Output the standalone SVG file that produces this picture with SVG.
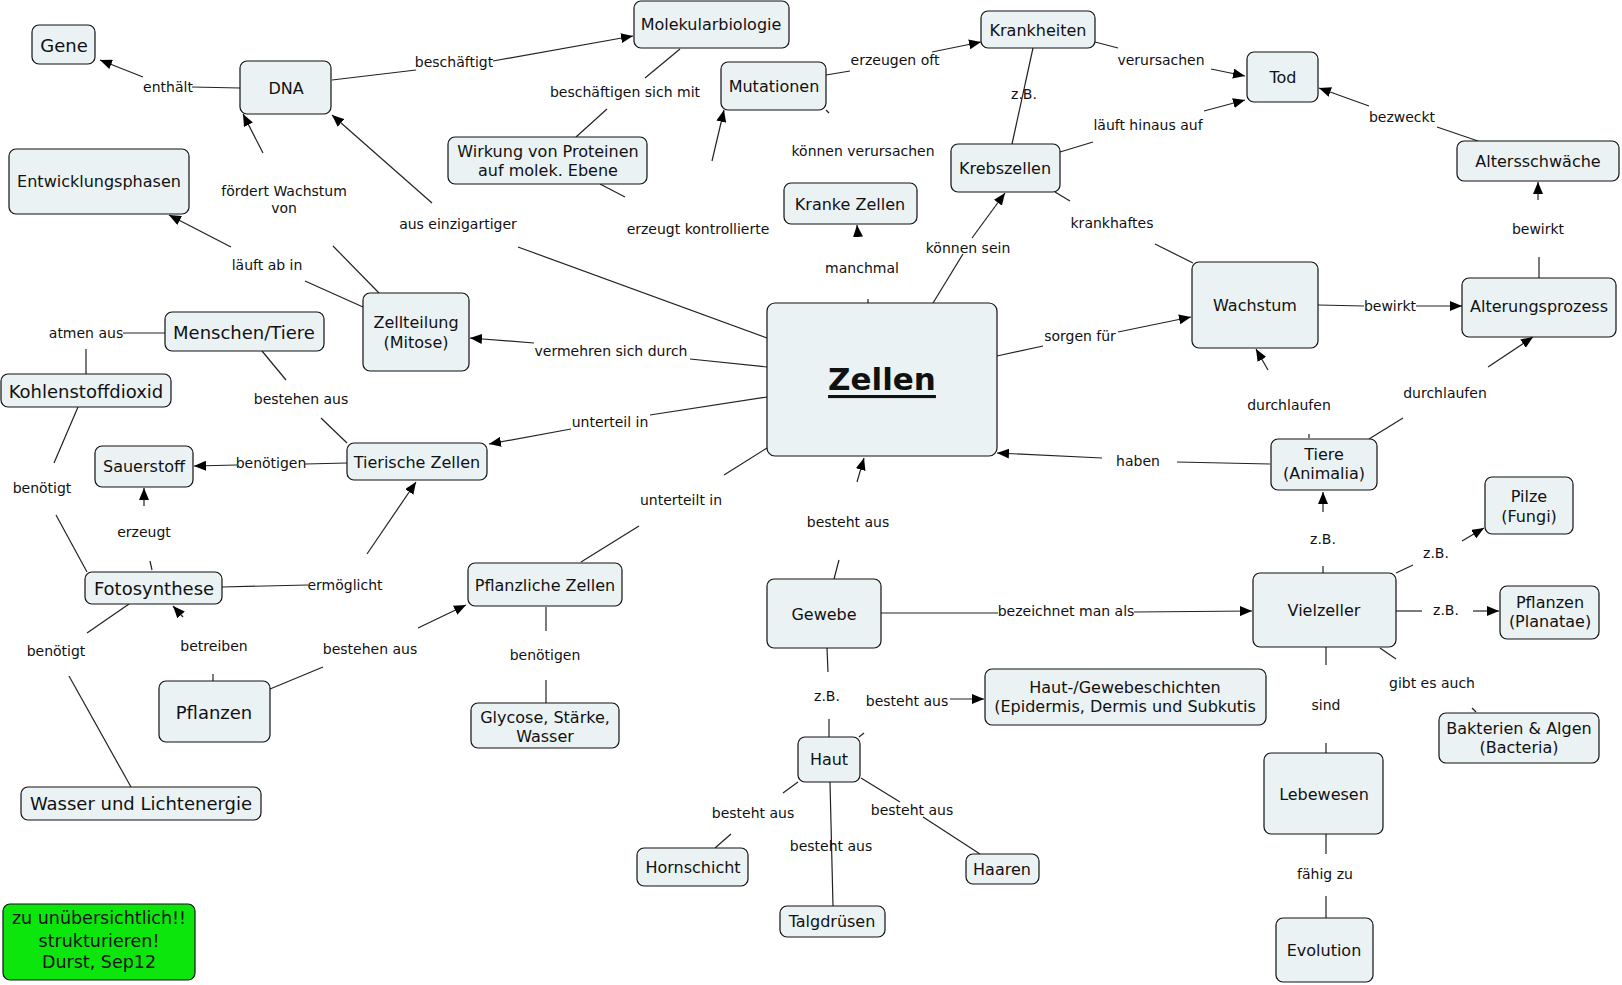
<svg xmlns="http://www.w3.org/2000/svg" width="1622" height="985" viewBox="0 0 1622 985">
<style>
.n rect{fill:#ebf2f4;stroke:#111;stroke-width:1.2}
.n text{font-family:"DejaVu Sans",Verdana,sans-serif;font-size:16px;fill:#111;text-anchor:middle;dominant-baseline:central}
.n text.L{font-size:18px}
.c path{fill:none;stroke:#222;stroke-width:1.2}
.c path.a{marker-end:url(#ah)}
.lb{font-family:"DejaVu Sans",Verdana,sans-serif;font-size:14px;fill:#111;text-anchor:middle;dominant-baseline:central}
</style>
<defs>
<marker id="ah" markerWidth="13" markerHeight="10" refX="12" refY="5" orient="auto" markerUnits="userSpaceOnUse"><path d="M0,0 L12,5 L0,10 z" fill="#000"/></marker>
</defs>
<rect width="1622" height="985" fill="#fff"/>
<g class="c" id="connectors">
<path d="M192,87 L240,88"/><path class="a" d="M143,77 L100,60"/>
<path d="M332,80 L416,70"/><path class="a" d="M493,61 L633,36"/>
<path d="M680,49 L645,78"/><path d="M607,109 L576,137"/>
<path d="M379,293 L333,246"/><path class="a" d="M263,153 L243,114"/>
<path d="M518,247 L767,338"/><path class="a" d="M432,203 L332,115"/>
<path d="M305,281 L363,307"/><path class="a" d="M231,247 L169,215"/>
<path d="M600,184 L625,197"/><path class="a" d="M712,161 L724,110"/>
<path d="M826,75 L850,71"/><path class="a" d="M932,52 L981,42"/>
<path d="M1095,42 L1118,48"/><path class="a" d="M1211,69 L1245,76"/>
<path d="M1033,48 L1012,144"/>
<path d="M1060,152 L1093,142"/><path class="a" d="M1204,111 L1245,100"/>
<path d="M1478,141 L1437,127"/><path class="a" d="M1369,106 L1319,88"/>
<path d="M826,110 L829,113"/>
<path d="M868,299 L868,303"/><path class="a" d="M858,237 L857,225"/>
<path d="M933,303 L963,254"/><path class="a" d="M972,238 L1005,193"/>
<path d="M1055,192 L1070,201"/><path d="M1155,244 L1193,263"/>
<path d="M1539,278 L1539,257"/><path class="a" d="M1538,200 L1538,182"/>
<path d="M1318,305 L1364,306"/><path class="a" d="M1416,306 L1462,306"/>
<path d="M997,356 L1043,346"/><path class="a" d="M1118,332 L1191,317"/>
<path d="M767,367 L690,359"/><path class="a" d="M534,343 L470,338"/>
<path d="M123,333 L165,333"/><path d="M86,349 L86,374"/>
<path d="M262,351 L286,380"/><path d="M321,418 L347,443"/>
<path d="M767,397 L650,415"/><path class="a" d="M571,429 L489,444"/>
<path d="M347,463 L305,464"/><path class="a" d="M237,465 L194,466"/>
<path d="M78,407 L54,463"/><path d="M56,515 L87,572"/>
<path d="M767,448 L724,475"/><path d="M639,526 L581,562"/>
<path class="a" d="M857,482 L864,458"/><path d="M834,579 L839,560"/>
<path class="a" d="M144,506 L144,488"/><path d="M152,570 L150,561"/>
<path d="M222,587 L308,585"/><path class="a" d="M367,554 L416,482"/>
<path d="M1309,438 L1309,434"/><path class="a" d="M1268,370 L1256,349"/>
<path d="M1369,439 L1403,418"/><path class="a" d="M1488,367 L1533,337"/>
<path d="M1270,464 L1177,462"/><path class="a" d="M1102,458 L997,453"/>
<path d="M1323,566 L1323,573"/><path class="a" d="M1323,512 L1323,492"/>
<path d="M1396,573 L1413,565"/><path class="a" d="M1462,541 L1484,528"/>
<path d="M881,613 L998,613"/><path class="a" d="M1134,612 L1252,611"/>
<path d="M1396,611 L1422,611"/><path class="a" d="M1473,611 L1499,611"/>
<path d="M213,674 L213,681"/><path class="a" d="M183,617 L173,606"/>
<path d="M129,604 L87,633"/><path d="M69,676 L131,787"/>
<path d="M270,689 L323,667"/><path class="a" d="M418,628 L466,605"/>
<path d="M546,607 L546,631"/><path d="M546,680 L546,703"/>
<path d="M1380,648 L1396,659"/><path d="M1472,708 L1476,712"/>
<path d="M1326,647 L1326,665"/><path d="M1326,743 L1326,753"/>
<path d="M1326,834 L1326,854"/><path d="M1326,896 L1326,918"/>
<path d="M827,648 L828,672"/><path d="M829,719 L829,737"/>
<path class="a" d="M950,699 L984,699"/><path d="M859,737 L864,733"/>
<path d="M798,782 L783,793"/><path d="M731,834 L715,848"/>
<path d="M830,782 L833,906"/>
<path d="M861,778 L900,802"/><path d="M923,817 L980,854"/>
<g id="labels">
<text class="lb" x="168" y="87">enthält</text>
<text class="lb" x="454" y="62">beschäftigt</text>
<text class="lb" x="625" y="92">beschäftigen sich mit</text>
<text class="lb" x="284" y="191">fördert Wachstum</text>
<text class="lb" x="284" y="208">von</text>
<text class="lb" x="458" y="224">aus einzigartiger</text>
<text class="lb" x="267" y="265">läuft ab in</text>
<text class="lb" x="698" y="229">erzeugt kontrollierte</text>
<text class="lb" x="895" y="60">erzeugen oft</text>
<text class="lb" x="1161" y="60">verursachen</text>
<text class="lb" x="1024" y="94">z.B.</text>
<text class="lb" x="1148" y="125">läuft hinaus auf</text>
<text class="lb" x="1402" y="117">bezweckt</text>
<text class="lb" x="863" y="151">können verursachen</text>
<text class="lb" x="968" y="248">können sein</text>
<text class="lb" x="1112" y="223">krankhaftes</text>
<text class="lb" x="862" y="268">manchmal</text>
<text class="lb" x="1538" y="229">bewirkt</text>
<text class="lb" x="1390" y="306">bewirkt</text>
<text class="lb" x="1080" y="336">sorgen für</text>
<text class="lb" x="611" y="351">vermehren sich durch</text>
<text class="lb" x="86" y="333">atmen aus</text>
<text class="lb" x="301" y="399">bestehen aus</text>
<text class="lb" x="1445" y="393">durchlaufen</text>
<text class="lb" x="1289" y="405">durchlaufen</text>
<text class="lb" x="610" y="422">unterteil in</text>
<text class="lb" x="1138" y="461">haben</text>
<text class="lb" x="271" y="463">benötigen</text>
<text class="lb" x="42" y="488">benötigt</text>
<text class="lb" x="681" y="500">unterteilt in</text>
<text class="lb" x="848" y="522">besteht aus</text>
<text class="lb" x="144" y="532">erzeugt</text>
<text class="lb" x="1323" y="539">z.B.</text>
<text class="lb" x="1436" y="553">z.B.</text>
<text class="lb" x="345" y="585">ermöglicht</text>
<text class="lb" x="1066" y="611">bezeichnet man als</text>
<text class="lb" x="1446" y="610">z.B.</text>
<text class="lb" x="214" y="646">betreiben</text>
<text class="lb" x="370" y="649">bestehen aus</text>
<text class="lb" x="56" y="651">benötigt</text>
<text class="lb" x="545" y="655">benötigen</text>
<text class="lb" x="1432" y="683">gibt es auch</text>
<text class="lb" x="827" y="696">z.B.</text>
<text class="lb" x="907" y="701">besteht aus</text>
<text class="lb" x="1326" y="705">sind</text>
<text class="lb" x="912" y="810">besteht aus</text>
<text class="lb" x="753" y="813">besteht aus</text>
<text class="lb" x="831" y="846">besteht aus</text>
<text class="lb" x="1325" y="874">fähig zu</text>
</g>
</g>
<g class="n" id="gene"><rect x="32" y="25" width="63" height="39" rx="7"/><text class="L" x="64" y="45">Gene</text></g>
<g class="n" id="dna"><rect x="240" y="61" width="91" height="53" rx="7"/><text x="286" y="88">DNA</text></g>
<g class="n" id="molekularbiologie"><rect x="634" y="1" width="155" height="47" rx="7"/><text x="711" y="24">Molekularbiologie</text></g>
<g class="n" id="wirkung"><rect x="448" y="137" width="199" height="47" rx="7"/><text x="548" y="151">Wirkung von Proteinen</text><text x="548" y="170">auf molek. Ebene</text></g>
<g class="n" id="mutationen"><rect x="721" y="62" width="105" height="48" rx="7"/><text x="774" y="86">Mutationen</text></g>
<g class="n" id="krankheiten"><rect x="981" y="11" width="114" height="37" rx="7"/><text x="1038" y="30">Krankheiten</text></g>
<g class="n" id="tod"><rect x="1247" y="52" width="71" height="50" rx="7"/><text x="1283" y="77">Tod</text></g>
<g class="n" id="entwicklungsphasen"><rect x="9" y="149" width="180" height="65" rx="7"/><text x="99" y="181">Entwicklungsphasen</text></g>
<g class="n" id="krebszellen"><rect x="951" y="144" width="109" height="48" rx="7"/><text x="1005" y="168">Krebszellen</text></g>
<g class="n" id="krankezellen"><rect x="784" y="183" width="133" height="41" rx="7"/><text x="850" y="204">Kranke Zellen</text></g>
<g class="n" id="altersschwaeche"><rect x="1457" y="141" width="162" height="40" rx="7"/><text x="1538" y="161">Altersschwäche</text></g>
<g class="n" id="zellteilung"><rect x="363" y="293" width="106" height="78" rx="7"/><text x="416" y="322">Zellteilung</text><text x="416" y="342">(Mitose)</text></g>
<g class="n" id="menschen"><rect x="165" y="312" width="159" height="39" rx="7"/><text class="L" x="244" y="332">Menschen/Tiere</text></g>
<g class="n" id="co2"><rect x="1" y="374" width="170" height="33" rx="7"/><text class="L" x="86" y="391">Kohlenstoffdioxid</text></g>
<g class="n" id="zellen"><rect x="767" y="303" width="230" height="153" rx="8"/><text x="882" y="379" style="font-size:31px;font-weight:bold;text-decoration:underline">Zellen</text></g>
<g class="n" id="wachstum"><rect x="1192" y="262" width="126" height="86" rx="7"/><text x="1255" y="305">Wachstum</text></g>
<g class="n" id="alterungsprozess"><rect x="1462" y="278" width="154" height="59" rx="7"/><text x="1539" y="306">Alterungsprozess</text></g>
<g class="n" id="tierischezellen"><rect x="347" y="443" width="140" height="37" rx="7"/><text x="417" y="462">Tierische Zellen</text></g>
<g class="n" id="sauerstoff"><rect x="95" y="446" width="98" height="41" rx="7"/><text x="144" y="466">Sauerstoff</text></g>
<g class="n" id="tiere"><rect x="1271" y="439" width="106" height="51" rx="7"/><text x="1324" y="454">Tiere</text><text x="1324" y="473">(Animalia)</text></g>
<g class="n" id="pilze"><rect x="1485" y="477" width="88" height="57" rx="7"/><text x="1529" y="496">Pilze</text><text x="1529" y="516">(Fungi)</text></g>
<g class="n" id="fotosynthese"><rect x="85" y="572" width="137" height="32" rx="7"/><text class="L" x="154" y="588">Fotosynthese</text></g>
<g class="n" id="pflanzlichezellen"><rect x="468" y="563" width="154" height="43" rx="7"/><text x="545" y="585">Pflanzliche Zellen</text></g>
<g class="n" id="gewebe"><rect x="767" y="579" width="114" height="69" rx="7"/><text x="824" y="614">Gewebe</text></g>
<g class="n" id="vielzeller"><rect x="1253" y="573" width="143" height="74" rx="7"/><text x="1324" y="610">Vielzeller</text></g>
<g class="n" id="pflanzenplanatae"><rect x="1500" y="586" width="99" height="53" rx="7"/><text x="1550" y="602">Pflanzen</text><text x="1550" y="621">(Planatae)</text></g>
<g class="n" id="hautschichten"><rect x="985" y="669" width="281" height="56" rx="7"/><text x="1125" y="687">Haut-/Gewebeschichten</text><text x="1125" y="706">(Epidermis, Dermis und Subkutis</text></g>
<g class="n" id="pflanzen"><rect x="159" y="681" width="111" height="61" rx="7"/><text class="L" x="214" y="712">Pflanzen</text></g>
<g class="n" id="glycose"><rect x="471" y="703" width="148" height="45" rx="7"/><text x="545" y="717">Glycose, Stärke,</text><text x="545" y="736">Wasser</text></g>
<g class="n" id="haut"><rect x="798" y="737" width="62" height="45" rx="7"/><text x="829" y="759">Haut</text></g>
<g class="n" id="lebewesen"><rect x="1264" y="753" width="119" height="81" rx="7"/><text x="1324" y="794">Lebewesen</text></g>
<g class="n" id="bakterien"><rect x="1439" y="713" width="160" height="50" rx="7"/><text x="1519" y="728">Bakterien &amp; Algen</text><text x="1519" y="747">(Bacteria)</text></g>
<g class="n" id="wasser"><rect x="21" y="787" width="240" height="33" rx="7"/><text class="L" x="141" y="803">Wasser und Lichtenergie</text></g>
<g class="n" id="hornschicht"><rect x="637" y="848" width="111" height="38" rx="7"/><text x="693" y="867">Hornschicht</text></g>
<g class="n" id="haaren"><rect x="966" y="854" width="73" height="30" rx="7"/><text x="1002" y="869">Haaren</text></g>
<g class="n" id="talgdruesen"><rect x="780" y="906" width="105" height="31" rx="7"/><text x="832" y="921">Talgdrüsen</text></g>
<g class="n" id="evolution"><rect x="1276" y="918" width="97" height="64" rx="7"/><text x="1324" y="950">Evolution</text></g>
<g class="n" id="note"><rect x="3" y="904" width="192" height="76" rx="7" style="fill:#0de60d"/><text x="99" y="918" style="font-size:17.5px">zu unübersichtlich!!</text><text x="99" y="941" style="font-size:17.5px">strukturieren!</text><text x="99" y="962" style="font-size:17.5px">Durst, Sep12</text></g>
</svg>
